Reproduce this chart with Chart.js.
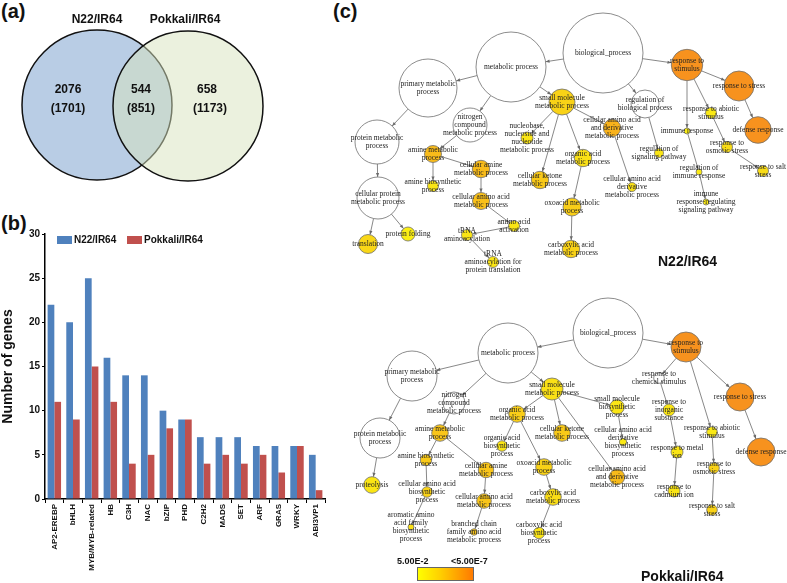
<!DOCTYPE html>
<html>
<head>
<meta charset="utf-8">
<script src="https://cdn.jsdelivr.net/npm/chart.js@4.4.1/dist/chart.umd.min.js"></script>
<style>
  body { margin: 0; background: #fff; width: 787px; height: 583px; position: relative; overflow: hidden; font-family: "Liberation Sans", Arial, sans-serif; }
  canvas { position: absolute; }
  .lbl { position: absolute; font-weight: bold; color: #111; white-space: nowrap; line-height: 1; }
  .box { position: absolute; }
</style>
</head>
<body>
<div class="lbl" style="left:1px;top:1px;font-size:20px">(a)</div>
<div class="lbl" style="left:1px;top:213px;font-size:20px">(b)</div>
<div class="lbl" style="left:333px;top:1px;font-size:20px">(c)</div>

<canvas id="venn" width="333" height="215" style="left:0;top:0"></canvas>
<canvas id="bars" width="335" height="363" style="left:0;top:220px"></canvas>
<canvas id="net" width="454" height="583" style="left:333px;top:0"></canvas>

<!-- legende du graphique a barres -->
<div class="box" style="left:57px;top:236px;width:15px;height:8px;background:#4f81bd"></div>
<div class="lbl" style="left:74px;top:235px;font-size:10px">N22/IR64</div>
<div class="box" style="left:127px;top:236px;width:15px;height:8px;background:#c0504d"></div>
<div class="lbl" style="left:144px;top:235px;font-size:10px">Pokkali/IR64</div>

<!-- titres des reseaux et barre de couleur -->
<div class="lbl" style="left:658px;top:254px;font-size:14px">N22/IR64</div>
<div class="lbl" style="left:641px;top:569px;font-size:14px">Pokkali/IR64</div>
<div class="lbl" style="left:397px;top:557px;font-size:9px">5.00E-2</div>
<div class="lbl" style="left:451px;top:557px;font-size:9px">&lt;5.00E-7</div>
<div class="box" style="left:417px;top:567px;width:55px;height:12px;border:1px solid #666;background:linear-gradient(to right,#ffff00,#ffd000 40%,#ff7a00)"></div>

<script>
// Diagramme de Venn
const vennSets = ['N22/IR64', 'Pokkali/IR64'];
const vennCounts = ['2076', '544', '658'];
const vennCountsUp = ['(1701)', '(851)', '(1173)'];

// Familles de facteurs de transcription
const tfFamilies = ['AP2-EREBP', 'bHLH', 'MYB/MYB-related', 'HB', 'C3H', 'NAC', 'bZIP', 'PHD', 'C2H2', 'MADS', 'SET', 'ARF', 'GRAS', 'WRKY', 'ABI3VP1'];
const n22Counts = [22, 20, 25, 16, 14, 14, 10, 9, 7, 7, 7, 6, 6, 6, 5];
const pokkaliCounts = [11, 9, 15, 11, 4, 5, 8, 9, 4, 5, 4, 5, 3, 6, 1];

// Reseau GO N22/IR64 (null = non significatif, 0 = 5.00E-2, 1 = <5.00E-7)
const topLabels = ['biological_process', 'metabolic process', 'primary metabolic\nprocess', 'protein metabolic\nprocess',
  'cellular protein\nmetabolic process', 'translation', 'protein folding', 'nitrogen\ncompound\nmetabolic process',
  'amine metabolic\nprocess', 'amine biosynthetic\nprocess', 'cellular amine\nmetabolic process', 'cellular amino acid\nmetabolic process',
  'amino acid\nactivation', 'tRNA\naminoacylation', 'tRNA\naminoacylation for\nprotein translation', 'small molecule\nmetabolic process',
  'nucleobase,\nnucleoside and\nnucleotide\nmetabolic process', 'cellular ketone\nmetabolic process', 'organic acid\nmetabolic process',
  'oxoacid metabolic\nprocess', 'carboxylic acid\nmetabolic process', 'cellular amino acid\nand derivative\nmetabolic process',
  'cellular amino acid\nderivative\nmetabolic process', 'regulation of\nbiological process', 'regulation of\nsignaling pathway',
  'response to\nstimulus', 'response to stress', 'defense response', 'response to abiotic\nstimulus', 'immune response',
  'response to\nosmotic stress', 'response to salt\nstress', 'regulation of\nimmune response', 'immune\nresponse-regulating\nsignaling pathway'];
const topX = [603, 511, 428, 377, 378, 368, 408, 470, 433, 433, 481, 481, 514, 467, 493, 562, 527, 540, 583, 572, 571, 612, 632, 645, 659, 687, 739, 758, 711, 687, 727, 763, 699, 706];
const topY = [53, 67, 88, 142, 198, 244, 234, 125, 154, 186, 169, 201, 226, 235, 262, 102, 138, 180, 158, 207, 249, 128, 187, 104, 153, 65, 86, 130, 113, 131, 147, 171, 172, 202];
const topSize = [40, 35, 29, 22, 21, 9.5, 7, 17, 8.5, 5.5, 8.7, 8.5, 5.5, 5.5, 5.5, 13, 6, 8.7, 8.7, 9, 8.7, 8.7, 4.5, 14, 4.5, 15.7, 15, 13.3, 5.5, 3, 5.5, 5.5, 3, 3];
const topLevel = [null, null, null, null, null, 0.25, 0, null, 0.55, 0.1, 0.55, 0.5, 0.1, 0.1, 0.1, 0.3, 0.1, 0.4, 0.15, 0.35, 0.3, 0.65, 0.15, null, 0.1, 1, 1, 1, 0.05, 0, 0.2, 0.2, 0.05, 0.05];
const topEdges = [[0, 1], [0, 25], [0, 23], [1, 2], [1, 7], [1, 15], [2, 3], [3, 4], [4, 5], [4, 6], [7, 8], [8, 9], [8, 10], [10, 11], [11, 12], [12, 13], [13, 14],
  [15, 16], [15, 17], [15, 18], [15, 21], [18, 19], [19, 20], [21, 22], [23, 24], [25, 26], [26, 27], [25, 28], [25, 29], [28, 30], [30, 31], [29, 32], [32, 33]];

// Reseau GO Pokkali/IR64
const botLabels = ['biological_process', 'metabolic process', 'primary metabolic\nprocess', 'protein metabolic\nprocess', 'proteolysis',
  'nitrogen\ncompound\nmetabolic process', 'amine metabolic\nprocess', 'amine biosynthetic\nprocess', 'cellular amino acid\nbiosynthetic\nprocess',
  'aromatic amino\nacid family\nbiosynthetic\nprocess', 'cellular amine\nmetabolic process', 'cellular amino acid\nmetabolic process',
  'branched chain\nfamily amino acid\nmetabolic process', 'small molecule\nmetabolic process', 'organic acid\nmetabolic process',
  'organic acid\nbiosynthetic\nprocess', 'cellular ketone\nmetabolic process', 'oxoacid metabolic\nprocess', 'carboxylic acid\nmetabolic process',
  'carboxylic acid\nbiosynthetic\nprocess', 'cellular amino acid\nand derivative\nmetabolic process', 'small molecule\nbiosynthetic\nprocess',
  'cellular amino acid\nderivative\nbiosynthetic\nprocess', 'response to\nstimulus', 'response to\nchemical stimulus', 'response to\ninorganic\nsubstance',
  'response to metal\nion', 'response to\ncadmium ion', 'response to stress', 'defense response', 'response to abiotic\nstimulus',
  'response to\nosmotic stress', 'response to salt\nstress'];
const botX = [608, 508, 412, 380, 372, 454, 440, 426, 427, 411, 486, 484, 474, 552, 517, 502, 562, 544, 553, 539, 617, 617, 623, 686, 659, 669, 677, 674, 740, 761, 712, 714, 712];
const botY = [333, 353, 376, 438, 485, 403, 433, 460, 492, 527, 470, 501, 532, 389, 414, 446, 433, 467, 497, 533, 477, 407, 442, 347, 378, 410, 452, 491, 397, 452, 432, 468, 510];
const botSize = [35, 30, 25, 20, 8.3, 11, 8.3, 5.7, 5.3, 3, 7.7, 7.3, 3.3, 11, 8.3, 5.3, 8.3, 8.3, 8.3, 5.7, 7.7, 7.3, 3.7, 15, 5.3, 6, 6, 6, 14, 14, 5.3, 5.3, 5.3];
const botLevel = [null, null, null, null, 0.1, null, 0.45, 0.4, 0.3, 0.15, 0.45, 0.45, 0.45, 0.15, 0.35, 0.1, 0.4, 0.3, 0.2, 0.1, 0.55, 0.1, 0.05, 1, null, 0.1, 0.1, 0.1, 1, 1, 0.05, 0.3, 0.3];
const botEdges = [[0, 1], [0, 23], [1, 2], [1, 5], [1, 13], [2, 3], [3, 4], [5, 6], [6, 7], [7, 8], [8, 9], [6, 10], [10, 11], [11, 12], [13, 14], [14, 15], [14, 17],
  [17, 18], [18, 19], [13, 16], [13, 20], [13, 21], [21, 22], [23, 24], [24, 25], [25, 26], [26, 27], [23, 28], [28, 29], [23, 30], [30, 31], [31, 32]];

const noUi = { legend: { display: false }, tooltip: { enabled: false } };

// Couleur selon la p-valeur
function levelColor(v) {
    if (v === null) return '#ffffff';
    const a = [250, 238, 20], b = [247, 146, 30];
    const c = a.map((k, i) => Math.round(k + (b[i] - k) * v));
    return `rgb(${c[0]},${c[1]},${c[2]})`;
}

// Textes du diagramme de Venn
const vennText = {
    id: 'vennText',
    afterDatasetsDraw(chart) {
        const ctx = chart.ctx;
        const sx = chart.scales.x, sy = chart.scales.y;
        ctx.save();
        ctx.fillStyle = '#111';
        ctx.textAlign = 'center';
        ctx.textBaseline = 'middle';
        ctx.font = 'bold 12px "Liberation Sans", Arial';
        ctx.fillText(vennSets[0], sx.getPixelForValue(97), sy.getPixelForValue(20));
        ctx.fillText(vennSets[1], sx.getPixelForValue(185), sy.getPixelForValue(20));
        const cx = [68, 141, 207], cx2 = [68, 141, 210];
        vennCounts.forEach((t, i) => ctx.fillText(t, sx.getPixelForValue(cx[i]), sy.getPixelForValue(90)));
        vennCountsUp.forEach((t, i) => ctx.fillText(t, sx.getPixelForValue(cx2[i]), sy.getPixelForValue(109)));
        ctx.restore();
    }
};

new Chart(document.getElementById('venn'), {
    type: 'bubble',
    data: {
        datasets: [
            { data: [{ x: 188, y: 106, r: 75 }], backgroundColor: 'rgba(215,227,189,0.5)', borderColor: '#111', borderWidth: 1.5, clip: false },
            { data: [{ x: 97, y: 105, r: 75 }], backgroundColor: '#b9cde5', borderColor: '#111', borderWidth: 1.5, clip: false }
        ]
    },
    options: {
        responsive: false, animation: false, events: [],
        layout: { padding: 0, autoPadding: false },
        plugins: noUi,
        scales: {
            x: { type: 'linear', display: false, min: 0, max: 333 },
            y: { type: 'linear', display: false, min: 0, max: 215, reverse: true }
        }
    },
    plugins: [vennText]
});

// Graphique a barres
new Chart(document.getElementById('bars'), {
    type: 'bar',
    data: {
        labels: tfFamilies,
        datasets: [
            { label: 'N22/IR64', data: n22Counts, backgroundColor: '#4f81bd' },
            { label: 'Pokkali/IR64', data: pokkaliCounts, backgroundColor: '#c0504d' }
        ]
    },
    options: {
        responsive: false, animation: false, events: [],
        layout: { padding: { top: 14, right: 10, left: 0, bottom: 0 } },
        plugins: noUi,
        datasets: { bar: { categoryPercentage: 0.72, barPercentage: 1.0 } },
        scales: {
            x: {
                afterFit: s => { s.height = 84; },
                border: { color: '#000', width: 1.5 },
                grid: { display: true, drawOnChartArea: false, color: '#000', tickLength: 4, offset: true },
                ticks: { color: '#111', font: { family: '"Liberation Sans", Arial', size: 8, weight: 'bold' }, maxRotation: 90, minRotation: 90, autoSkip: false, padding: 1 }
            },
            y: {
                min: 0, max: 30,
                afterFit: s => { s.width = 45; },
                border: { color: '#000', width: 1.5 },
                grid: { display: true, drawOnChartArea: false, color: '#000', tickLength: 3 },
                ticks: { stepSize: 5, color: '#111', font: { family: '"Liberation Sans", Arial', size: 10, weight: 'bold' }, padding: 2 },
                title: { display: true, text: 'Number of genes', color: '#111', font: { family: '"Liberation Sans", Arial', size: 14, weight: 'bold' }, padding: { top: 0, bottom: 4 } }
            }
        }
    }
});

// Reseaux d'enrichissement GO
const networks = [
    { labels: topLabels, x: topX, y: topY, size: topSize, level: topLevel, edges: topEdges },
    { labels: botLabels, x: botX, y: botY, size: botSize, level: botLevel, edges: botEdges }
];

const netPlugin = {
    id: 'netLinks',
    beforeDatasetsDraw(chart) {
        const ctx = chart.ctx;
        const sx = chart.scales.x, sy = chart.scales.y;
        ctx.save();
        ctx.strokeStyle = '#6a6a6a';
        ctx.fillStyle = '#6a6a6a';
        ctx.lineWidth = 0.8;
        networks.forEach(n => {
            n.edges.forEach(([a, b]) => {
                const x1 = sx.getPixelForValue(n.x[a]), y1 = sy.getPixelForValue(n.y[a]);
                const x2 = sx.getPixelForValue(n.x[b]), y2 = sy.getPixelForValue(n.y[b]);
                const d = Math.hypot(x2 - x1, y2 - y1) || 1;
                const ux = (x2 - x1) / d, uy = (y2 - y1) / d;
                const ex = x2 - ux * n.size[b], ey = y2 - uy * n.size[b];
                ctx.beginPath();
                ctx.moveTo(x1 + ux * n.size[a], y1 + uy * n.size[a]);
                ctx.lineTo(ex, ey);
                ctx.stroke();
                // petite pointe de fleche
                ctx.beginPath();
                ctx.moveTo(ex, ey);
                ctx.lineTo(ex - ux * 4 - uy * 1.6, ey - uy * 4 + ux * 1.6);
                ctx.lineTo(ex - ux * 4 + uy * 1.6, ey - uy * 4 - ux * 1.6);
                ctx.closePath();
                ctx.fill();
            });
        });
        ctx.restore();
    },
    afterDatasetsDraw(chart) {
        const ctx = chart.ctx;
        const sx = chart.scales.x, sy = chart.scales.y;
        ctx.save();
        ctx.fillStyle = '#222';
        ctx.textAlign = 'center';
        ctx.textBaseline = 'middle';
        ctx.font = '7.5px "Liberation Serif", "Times New Roman", serif';
        networks.forEach(n => {
            n.labels.forEach((t, i) => {
                const lines = t.split('\n');
                const px = sx.getPixelForValue(n.x[i]), py = sy.getPixelForValue(n.y[i]);
                lines.forEach((l, k) => ctx.fillText(l, px, py + (k - (lines.length - 1) / 2) * 7.8));
            });
        });
        ctx.restore();
    }
};

new Chart(document.getElementById('net'), {
    type: 'bubble',
    data: {
        datasets: networks.map(n => ({
            data: n.x.map((x, i) => ({ x: x, y: n.y[i], r: n.size[i] })),
            backgroundColor: n.level.map(levelColor),
            borderColor: '#6f6f6f',
            borderWidth: 0.8,
            clip: false
        }))
    },
    options: {
        responsive: false, animation: false, events: [],
        layout: { padding: 0, autoPadding: false },
        plugins: noUi,
        scales: {
            x: { type: 'linear', display: false, min: 333, max: 787 },
            y: { type: 'linear', display: false, min: 0, max: 583, reverse: true }
        }
    },
    plugins: [netPlugin]
});
</script>
</body>
</html>
